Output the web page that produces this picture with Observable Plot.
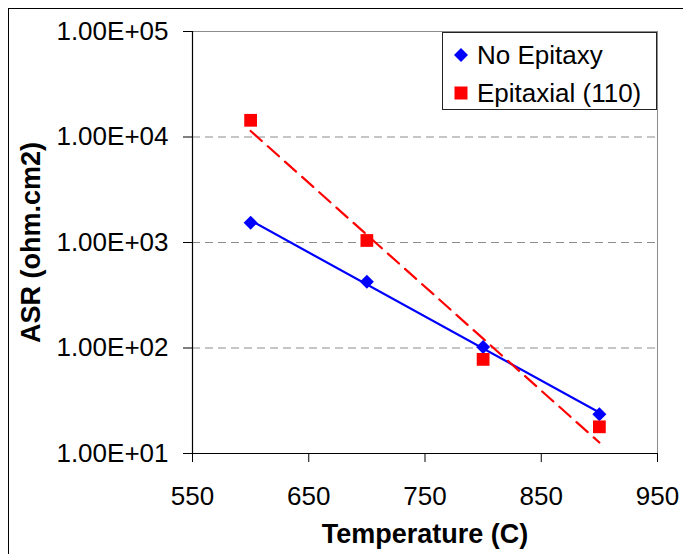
<!DOCTYPE html>
<html>
<head>
<meta charset="utf-8">
<script src="https://cdn.jsdelivr.net/npm/d3@7"></script>
<script src="https://cdn.jsdelivr.net/npm/@observablehq/plot@0.6"></script>
<style>
  html, body { margin: 0; padding: 0; background: #fff; overflow: hidden; }
  #wrap { position: relative; width: 683px; height: 554px; font-family: "Liberation Sans", Arial, sans-serif; }
  #frame { position: absolute; left: 8px; top: 8px; width: 700px; height: 600px; border: 1.5px solid #000; box-sizing: border-box; pointer-events: none; }
  #legend { position: absolute; left: 442px; top: 32px; width: 215px; height: 78px; border: 1px solid #222; box-sizing: border-box; background: #fff; }
  .item { position: absolute; left: 0; height: 30px; width: 213px; }
  .item svg { position: absolute; left: 10px; top: 7px; }
  .item span { position: absolute; left: 34px; top: 0; font-size: 26px; line-height: 30px; color: #000; white-space: nowrap; }
</style>
</head>
<body>
<div id="wrap">
  <div id="chart"></div>
  <div id="legend"></div>
  <div id="frame"></div>
</div>
<script>
// ---- data ----
const temperatures = [600, 700, 800, 900];
const noEpitaxy = [1540, 424, 102, 23.5];
const epitaxial110 = [14400, 1045, 78, 17.9];
const seriesNames = ["No Epitaxy", "Epitaxial (110)"];
const seriesColors = ["#0000ff", "#ff0000"];
const xTicks = [550, 650, 750, 850, 950];
const yTicks = [10, 100, 1000, 10000, 100000];
const yTickLabels = ["1.00E+01", "1.00E+02", "1.00E+03", "1.00E+04", "1.00E+05"];
const xTitle = "Temperature (C)";
const yTitle = "ASR (ohm.cm2)";

// ---- tables ----
const pts = (vals, name) => temperatures.map((t, i) => ({t, v: vals[i], s: name}));
const blue = pts(noEpitaxy, seriesNames[0]);
const red = pts(epitaxial110, seriesNames[1]);

// exponential (log-linear) least squares trendline, like Excel's
function expTrend(rows) {
  const xs = rows.map(d => d.t), ys = rows.map(d => Math.log10(d.v));
  const mx = d3.mean(xs), my = d3.mean(ys);
  const b = d3.sum(xs, (x, i) => (x - mx) * (ys[i] - my)) / d3.sum(xs, x => (x - mx) ** 2);
  const a = my - b * mx;
  return d3.extent(xs).map(x => ({t: x, v: Math.pow(10, a + b * x)}));
}
const blueTrend = expTrend(blue);
const redTrend = expTrend(red);

const chart = Plot.plot({
  width: 683,
  height: 554,
  marginLeft: 192,
  marginRight: 26,
  marginTop: 31,
  marginBottom: 101,
  style: {fontFamily: "'Liberation Sans', Arial, sans-serif", fontSize: "26px", color: "#000", background: "transparent"},
  x: {domain: [550, 950]},
  y: {type: "log", domain: [10, 100000]},
  marks: [
    Plot.ruleY(yTicks.slice(1, 4), {stroke: "#8c8c8c", strokeWidth: 1, strokeDasharray: "8,5"}),
    Plot.ruleY([100000], {stroke: "#8c8c8c", strokeWidth: 1}),
    Plot.ruleX([950], {stroke: "#8c8c8c", strokeWidth: 1}),
    Plot.axisX({ticks: xTicks, tickSize: 9, tickPadding: 24, label: null, tickFormat: d => String(d)}),
    Plot.axisY({ticks: yTicks, tickSize: 9, tickPadding: 15, label: null, tickFormat: d => yTickLabels[yTicks.indexOf(d)]}),
    Plot.ruleX([550], {stroke: "#000", strokeWidth: 1.2}),
    Plot.ruleY([10], {stroke: "#000", strokeWidth: 1.2}),
    Plot.line(blueTrend, {x: "t", y: "v", stroke: seriesColors[0], strokeWidth: 2.2}),
    Plot.line(redTrend, {x: "t", y: "v", stroke: seriesColors[1], strokeWidth: 2.2, strokeDasharray: "15,8"}),
    Plot.dot(blue, {x: "t", y: "v", symbol: "diamond2", r: 6.3, fill: seriesColors[0], stroke: "none"}),
    Plot.dot(red, {x: "t", y: "v", symbol: "square", r: 7.2, fill: seriesColors[1], stroke: "none"}),
    Plot.text([yTitle], {frameAnchor: "left", dx: -161, rotate: -90, textAnchor: "middle", fontWeight: "bold", fontSize: 27, lineAnchor: "middle"}),
    Plot.text([xTitle], {frameAnchor: "bottom", dy: 81, textAnchor: "middle", fontWeight: "bold", fontSize: 27, lineAnchor: "middle"})
  ]
});
document.getElementById("chart").appendChild(chart);

// ---- legend ----
const legend = document.getElementById("legend");
const symbols = [
  '<svg width="16" height="16"><path d="M8,1 L15,8 L8,15 L1,8 Z" fill="' + seriesColors[0] + '"/></svg>',
  '<svg width="16" height="16"><rect x="1.5" y="1.5" width="13" height="13" fill="' + seriesColors[1] + '"/></svg>'
];
seriesNames.forEach((name, i) => {
  const row = document.createElement("div");
  row.className = "item";
  row.style.top = (7 + i * 38) + "px";
  row.innerHTML = symbols[i] + "<span>" + name + "</span>";
  legend.appendChild(row);
});
</script>
</body>
</html>
